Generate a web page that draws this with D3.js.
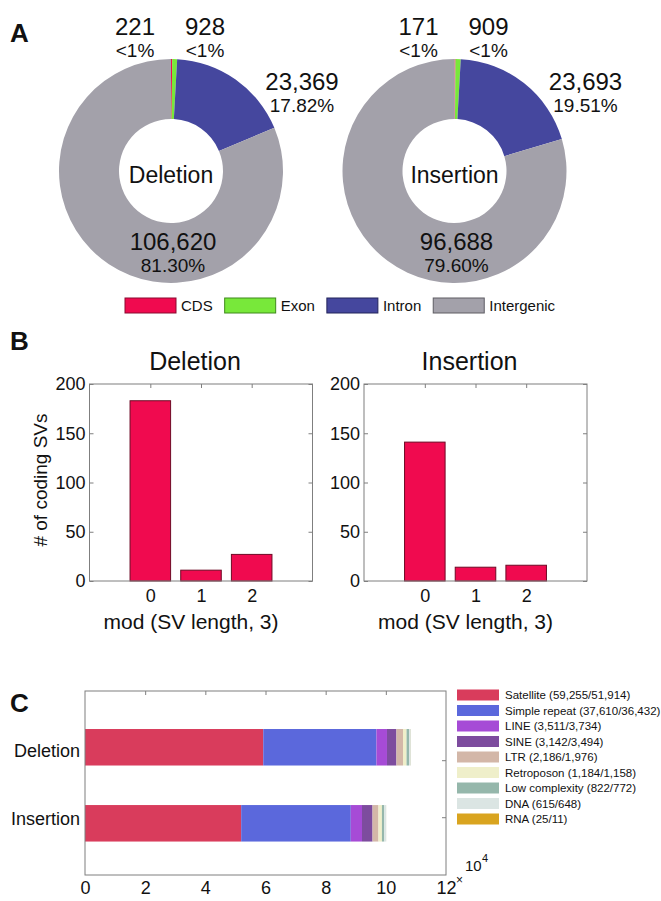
<!DOCTYPE html>
<html lang="en">
<head>
<meta charset="utf-8">
<title>SV annotation</title>
<script src="https://cdn.jsdelivr.net/npm/d3@7"></script>
<style>
  body { margin: 0; background: #fff; }
  svg text { font-family: "Liberation Sans", Arial, sans-serif; fill: #111; }
</style>
</head>
<body>
<div id="chart"></div>
<script>
// ---- data ----
var regions    = ["CDS", "Exon", "Intron", "Intergenic"];
var regionCols = ["#f00a4f", "#78e83a", "#45479e", "#a3a1aa"];
var regionEdge = ["#8a0a30", "#3f8a1c", "#23245a", "#5e5d63"];
var delCounts  = [221, 928, 23369, 106620];
var insCounts  = [171, 909, 23693, 96688];
var delPct     = ["<1%", "<1%", "17.82%", "81.30%"];
var insPct     = ["<1%", "<1%", "19.51%", "79.60%"];

var modCats    = [0, 1, 2];
var delMod     = [183, 11, 27];
var insMod     = [141, 14, 16];
var modTicksY  = [0, 50, 100, 150, 200];

var svTypes    = ["Deletion", "Insertion"];
var repeats    = ["Satellite", "Simple repeat", "LINE", "SINE", "LTR", "Retroposon", "Low complexity", "DNA", "RNA"];
var repeatCols = ["#d93c5c", "#5b68dc", "#a64bd6", "#7d4c9e", "#d3b7a8", "#efefca", "#95b7ab", "#dbe5e3", "#d9a41f"];
var repDel     = [59255, 37610, 3511, 3142, 2186, 1184, 822, 615, 25];
var repIns     = [51914, 36432, 3734, 3494, 1976, 1158, 772, 648, 11];
var repTicksX  = [0, 20000, 40000, 60000, 80000, 100000, 120000];
var cRightTicks = [1.17, 1.92];

var W = 661, H = 901;
var svg = d3.select("#chart").append("svg").attr("width", W).attr("height", H);
var fmt = d3.format(",");
var frame = "#7f7f7f";

function panelLabel(t, x, y) {
  svg.append("text").attr("x", x).attr("y", y).text(t)
    .style("font-size", "26px").style("font-weight", "bold");
}
panelLabel("A", 10, 42);
panelLabel("B", 10, 350);
panelLabel("C", 10, 712);

// ---- panel A: donuts ----
var pie = d3.pie().sort(null);
var arc = d3.arc().innerRadius(52).outerRadius(112);

function donut(cx, cy, counts, pcts, title) {
  var g = svg.append("g").attr("transform", "translate(" + cx + "," + cy + ")");
  g.selectAll("path").data(pie(counts)).enter().append("path")
    .attr("d", arc).attr("fill", function(d, i) { return regionCols[i]; });
  g.append("text").attr("y", 12).attr("text-anchor", "middle")
    .style("font-size", "23px").text(title);

  // label anchors: small slices above, intron to the right, intergenic inside bottom
  var spots = [[-36, -136], [34, -136], [131, -81], [2, 79]];
  counts.forEach(function(c, i) {
    g.append("text").attr("x", spots[i][0]).attr("y", spots[i][1])
      .attr("text-anchor", "middle").style("font-size", "24px").text(fmt(c));
    g.append("text").attr("x", spots[i][0]).attr("y", spots[i][1] + 22)
      .attr("text-anchor", "middle").style("font-size", "19px").text(pcts[i]);
  });
}
donut(171, 171, delCounts, delPct, "Deletion");
donut(454.5, 171, insCounts, insPct, "Insertion");

// legend A
var lx = 125;
regions.forEach(function(r, i) {
  svg.append("rect").attr("x", lx).attr("y", 298).attr("width", 51).attr("height", 15)
    .attr("fill", regionCols[i]).attr("stroke", regionEdge[i]).attr("stroke-width", 1);
  var t = svg.append("text").attr("x", lx + 56).attr("y", 311)
    .style("font-size", "15px").text(r);
  lx += 56 + t.node().getComputedTextLength() + 12;
});

// ---- panel B: mod bars ----
function modPlot(left, vals, title, showYLabel) {
  var w = 223, top = 384, bottom = 581;
  var x = d3.scaleLinear().domain([-1.2, 3.2]).range([left, left + w]);
  var y = d3.scaleLinear().domain([0, 200]).range([bottom, top]);
  var g = svg.append("g");

  g.selectAll("rect.bar").data(vals).enter().append("rect").attr("class", "bar")
    .attr("x", function(d, i) { return x(modCats[i] - 0.4); })
    .attr("width", x(0.4) - x(-0.4))
    .attr("y", function(d) { return y(d); })
    .attr("height", function(d) { return y(0) - y(d); })
    .attr("fill", "#f00a4f").attr("stroke", "#6e0a25").attr("stroke-width", 1);

  g.append("rect").attr("x", left).attr("y", top).attr("width", w).attr("height", bottom - top)
    .attr("fill", "none").attr("stroke", frame).attr("stroke-width", 1);

  // inward ticks on all sides
  var yAxL = d3.axisLeft(y).tickValues(modTicksY).tickSizeInner(-4).tickSizeOuter(0).tickPadding(4);
  var gy = g.append("g").attr("transform", "translate(" + left + ",0)").call(yAxL);
  gy.select(".domain").remove();
  gy.selectAll("line").attr("stroke", frame);
  gy.selectAll("text").style("font-size", "18px").attr("fill", "#222");

  var yAxR = d3.axisRight(y).tickValues(modTicksY).tickSizeInner(-4).tickSizeOuter(0).tickFormat("");
  var gyr = g.append("g").attr("transform", "translate(" + (left + w) + ",0)").call(yAxR);
  gyr.select(".domain").remove();
  gyr.selectAll("line").attr("stroke", frame);

  var xAx = d3.axisBottom(x).tickValues(modCats).tickFormat(d3.format("d"))
    .tickSizeInner(0).tickSizeOuter(0).tickPadding(8);
  var gx = g.append("g").attr("transform", "translate(0," + bottom + ")").call(xAx);
  gx.select(".domain").remove();
  gx.selectAll("text").style("font-size", "18px").attr("fill", "#222");

  var xAxT = d3.axisTop(x).tickValues(modCats).tickSizeInner(-4).tickSizeOuter(0).tickFormat("");
  var gxt = g.append("g").attr("transform", "translate(0," + top + ")").call(xAxT);
  gxt.select(".domain").remove();
  gxt.selectAll("line").attr("stroke", frame);

  g.append("text").attr("x", left + w / 2 - 6).attr("y", 370).attr("text-anchor", "middle")
    .style("font-size", "25px").text(title);
  g.append("text").attr("x", left + w / 2 - 10).attr("y", 629).attr("text-anchor", "middle")
    .style("font-size", "21px").text("mod (SV length, 3)");
  if (showYLabel) {
    g.append("text").attr("transform", "translate(47,480) rotate(-90)").attr("text-anchor", "middle")
      .style("font-size", "19px").text("# of coding SVs");
  }
}
modPlot(89.5, delMod, "Deletion", true);
modPlot(364, insMod, "Insertion", false);

// ---- panel C: repeat composition ----
(function() {
  var left = 85, right = 446, top = 691, bottom = 875;
  var x = d3.scaleLinear().domain([0, 120000]).range([left, right]);
  var y = d3.scaleLinear().domain([0.26, 2.68]).range([top, bottom]);
  var bh = y(1.24) - y(0.76);
  var g = svg.append("g");

  [repDel, repIns].forEach(function(vals, k) {
    var acc = 0;
    var segs = vals.map(function(v, i) { var s = { x0: acc, x1: acc + v, i: i }; acc += v; return s; });
    g.selectAll(null).data(segs).enter().append("rect")
      .attr("x", function(d) { return x(d.x0); })
      .attr("width", function(d) { return x(d.x1) - x(d.x0); })
      .attr("y", y(k + 1) - bh / 2).attr("height", bh)
      .attr("fill", function(d) { return repeatCols[d.i]; });
    g.append("text").attr("x", 80).attr("y", y(k + 1) + (k === 0 ? 10 : 2))
      .attr("text-anchor", "end").style("font-size", "18px").text(svTypes[k]);
  });

  g.append("rect").attr("x", left).attr("y", top).attr("width", right - left).attr("height", bottom - top)
    .attr("fill", "none").attr("stroke", frame).attr("stroke-width", 1);

  var xAx = d3.axisBottom(x).tickValues(repTicksX).tickSizeInner(0).tickSizeOuter(0).tickPadding(6)
    .tickFormat(function(d) { return d / 10000; });
  var gx = g.append("g").attr("transform", "translate(0," + bottom + ")").call(xAx);
  gx.select(".domain").remove();
  gx.selectAll("text").style("font-size", "18px").attr("fill", "#222");

  var xAxT = d3.axisTop(x).tickValues(repTicksX.slice(1, -1)).tickSizeInner(-4).tickSizeOuter(0).tickFormat("");
  var gxt = g.append("g").attr("transform", "translate(0," + top + ")").call(xAxT);
  gxt.select(".domain").remove();
  gxt.selectAll("line").attr("stroke", frame);

  var yAxR = d3.axisRight(y).tickValues(cRightTicks).tickSizeInner(-4).tickSizeOuter(0).tickFormat("");
  var gyr = g.append("g").attr("transform", "translate(" + right + ",0)").call(yAxR);
  gyr.select(".domain").remove();
  gyr.selectAll("line").attr("stroke", frame);

  // x10^4 multiplier
  g.append("text").attr("x", right + 10).attr("y", 884).style("font-size", "12px").attr("fill", "#666").text("\u00d7");
  g.append("text").attr("x", right + 19).attr("y", 871).style("font-size", "15px").attr("fill", "#333").text("10");
  g.append("text").attr("x", right + 36).attr("y", 862).style("font-size", "11px").attr("fill", "#333").text("4");

  // legend
  repeats.forEach(function(r, i) {
    var cy = 695 + i * 15.5;
    g.append("rect").attr("x", 457).attr("y", cy - 5.5).attr("width", 42).attr("height", 11)
      .attr("fill", repeatCols[i]);
    g.append("text").attr("x", 505).attr("y", cy + 4).style("font-size", "11.5px")
      .text(r + " (" + fmt(repDel[i]) + "/" + fmt(repIns[i]) + ")");
  });
})();
</script>
</body>
</html>
